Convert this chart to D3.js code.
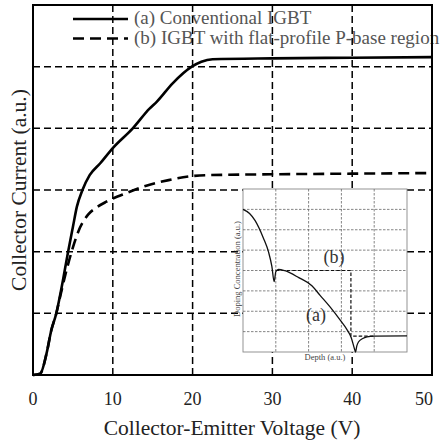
<!DOCTYPE html>
<html><head><meta charset="utf-8">
<script src="https://cdn.jsdelivr.net/npm/d3@7"></script>
</head><body style="margin:0">
<script>
// ---- data ----
const xTicks = [0, 10, 20, 30, 40, 50];
const yGrid = [1, 2, 3, 4, 5];
const seriesNames = ["(a) Conventional IGBT", "(b) IGBT with flat-profile P-base region"];
// main curves: [Vce, current (a.u.)]
const curveA = [[0,0],[0.9,0.02],[1.7,0.35],[2.3,0.73],[2.9,0.99],[3.6,1.43],[4.4,2.0],[5.0,2.4],[5.5,2.73],[6.2,3.0],[7.1,3.24],[8.4,3.43],[10,3.68],[12.5,4.0],[14.6,4.32],[15.5,4.43],[17.5,4.73],[19.9,5.0],[21.1,5.08],[22.5,5.12],[30,5.135],[40,5.145],[50,5.155]];
const curveB = [[0,0],[0.9,0.02],[1.7,0.35],[2.3,0.73],[2.9,0.99],[3.4,1.27],[4.2,1.7],[4.84,2.0],[5.66,2.32],[6.9,2.6],[8,2.72],[9.2,2.81],[11.7,2.95],[14.2,3.07],[17,3.16],[19.6,3.22],[21.7,3.24],[30,3.255],[40,3.265],[50,3.275]];
// inset: doping profile [depth, concentration] (a.u.)
const insetA = [[0,7.0],[0.2,6.8],[0.37,6.45],[0.62,5.6],[0.78,4.9],[0.88,4.2],[0.95,3.45],[1.0,3.94],[1.08,4.06],[1.28,3.99],[1.7,3.65],[2.1,3.25],[2.35,2.78],[2.66,2.2],[2.97,1.55],[3.17,1.1],[3.3,0.7],[3.4,0.15],[3.43,0],[3.47,0.3],[3.52,0.49],[3.65,0.66],[3.78,0.74],[4.0,0.78],[5,0.79]];
const insetB = [[1.0,4.0],[3.29,4.0],[3.29,0.78],[4.0,0.78]];
const insetXGrid = [1,2,3,4];
const insetYGrid = [1,2,3,4,5,6,7];

const W = 443, H = 443;
const svg = d3.select("body").append("svg").attr("width", W).attr("height", H);

const x = d3.scaleLinear().domain([0, 50]).range([33, 432]);
const y = d3.scaleLinear().domain([0, 6]).range([375, 5]);

function txt(g, xx, yy, s, size, fill, anchor) {
  const t = g.append("text").attr("x", xx).attr("y", yy).attr("fill", fill).text(s);
  t.style("font-family", '"Times New Roman"').style("font-size", size + "px");
  if (anchor) t.attr("text-anchor", anchor);
  return t;
}

// legend (under grid)
const leg = svg.append("g");
const legY = [19, 38.5];
const legDash = [null, "11,6"];
seriesNames.forEach((n, i) => {
  leg.append("line").attr("x1", 73).attr("x2", 128).attr("y1", legY[i]).attr("y2", legY[i])
    .attr("stroke", "#000").attr("stroke-width", 2.6).attr("stroke-dasharray", legDash[i]);
  txt(leg, 134, legY[i] + 5, n, 19, "#555");
});

// grid
const grid = svg.append("g").attr("stroke", "#000").attr("stroke-width", 1.5).attr("stroke-dasharray", "7,4");
xTicks.filter(v => v > 0 && v < 50).forEach(v => {
  grid.append("line").attr("x1", x(v)).attr("x2", x(v)).attr("y1", y(6)).attr("y2", y(0));
});
yGrid.forEach(v => {
  grid.append("line").attr("x1", x(0)).attr("x2", x(50)).attr("y1", y(v)).attr("y2", y(v));
});

// curves
const line = d3.line().x(d => x(d[0])).y(d => y(d[1])).curve(d3.curveMonotoneX);
svg.append("path").datum(curveA).attr("d", line).attr("fill", "none").attr("stroke", "#000").attr("stroke-width", 2.6);
svg.append("path").datum(curveB).attr("d", line).attr("fill", "none").attr("stroke", "#000").attr("stroke-width", 2.6).attr("stroke-dasharray", "11,6");

// inset
const ix = d3.scaleLinear().domain([0, 5]).range([243, 407]);
const iy = d3.scaleLinear().domain([0, 8]).range([352, 189]);
const ins = svg.append("g");
ins.append("rect").attr("x", ix(0)).attr("y", iy(8)).attr("width", ix(5) - ix(0)).attr("height", iy(0) - iy(8))
  .attr("fill", "#fff").attr("stroke", "#888").attr("stroke-width", 0.9);
const ig = ins.append("g").attr("stroke", "#666").attr("stroke-width", 0.8).attr("stroke-dasharray", "2.5,1.5");
insetXGrid.forEach(v => ig.append("line").attr("x1", ix(v)).attr("x2", ix(v)).attr("y1", iy(8)).attr("y2", iy(0)));
insetYGrid.forEach(v => ig.append("line").attr("x1", ix(0)).attr("x2", ix(5)).attr("y1", iy(v)).attr("y2", iy(v)));
const iline = d3.line().x(d => ix(d[0])).y(d => iy(d[1])).curve(d3.curveMonotoneX);
const iline2 = d3.line().x(d => ix(d[0])).y(d => iy(d[1]));
ins.append("path").datum(insetA).attr("d", iline).attr("fill", "none").attr("stroke", "#111").attr("stroke-width", 1.3);
ins.append("path").datum(insetB).attr("d", iline2).attr("fill", "none").attr("stroke", "#111").attr("stroke-width", 1.2).attr("stroke-dasharray", "3.5,2");
txt(ins, 334, 263, "(b)", 18, "#333", "middle");
txt(ins, 316, 321, "(a)", 18, "#333", "middle");
txt(ins, 325, 360, "Depth (a.u.)", 8.5, "#444", "middle");
txt(ins, 0, 0, "Doping Concentration (a.u.)", 8.5, "#444", "middle").attr("transform", "translate(240,269) rotate(-90)");

// frame
svg.append("rect").attr("x", x(0)).attr("y", y(6)).attr("width", x(50) - x(0)).attr("height", y(0) - y(6))
  .attr("fill", "none").attr("stroke", "#000").attr("stroke-width", 2);

// tick labels
xTicks.forEach((v, i) => {
  const last = i === xTicks.length - 1;
  txt(svg, last ? x(v) + 1 : x(v), 405, String(v), 18, "#222", last ? "end" : "middle");
});
txt(svg, 232, 435, "Collector-Emitter Voltage (V)", 21.5, "#222", "middle");
txt(svg, 0, 0, "Collector Current (a.u.)", 21.5, "#222", "middle").attr("transform", "translate(26,190) rotate(-90)");
</script>
</body></html>
